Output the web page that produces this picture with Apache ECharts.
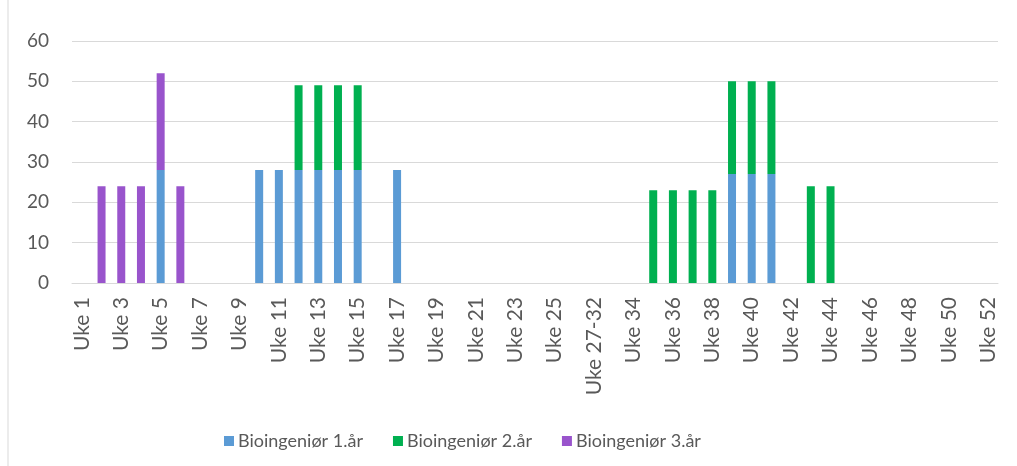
<!DOCTYPE html>
<html>
<head>
<meta charset="utf-8">
<script src="https://cdn.jsdelivr.net/npm/echarts@6/dist/echarts.min.js"></script>
<style>
  html, body { margin: 0; padding: 0; background: #fff; }
  #chart { width: 1017px; height: 466px; }
</style>
</head>
<body>
<div id="chart"></div>
<script>
// uker: 1-26, 27-32 samlet, 33-52
const weeks = []
for (let i = 1; i <= 26; i++) weeks.push('Uke ' + i)
weeks.push('Uke 27-32')
for (let i = 33; i <= 52; i++) weeks.push('Uke ' + i)

const seriesNames = ['Bioingeniør 1.år', 'Bioingeniør 2.år', 'Bioingeniør 3.år']

// verdier per uke (uke -> antall)
const year1 = { 'Uke 5': 28, 'Uke 10': 28, 'Uke 11': 28, 'Uke 12': 28, 'Uke 13': 28, 'Uke 14': 28, 'Uke 15': 28, 'Uke 17': 28, 'Uke 39': 27, 'Uke 40': 27, 'Uke 41': 27 }
const year2 = { 'Uke 12': 21, 'Uke 13': 21, 'Uke 14': 21, 'Uke 15': 21, 'Uke 35': 23, 'Uke 36': 23, 'Uke 37': 23, 'Uke 38': 23, 'Uke 39': 23, 'Uke 40': 23, 'Uke 41': 23, 'Uke 43': 24, 'Uke 44': 24 }
const year3 = { 'Uke 2': 24, 'Uke 3': 24, 'Uke 4': 24, 'Uke 5': 24, 'Uke 6': 24 }

const colors = ['#5B9BD5', '#00B050', '#9954CC']

function toArr(obj) {
  return weeks.map(w => (obj[w] === undefined ? null : obj[w]))
}

const chart = echarts.init(document.getElementById('chart'))
const font = 'Lato, Open Sans, sans-serif'

chart.setOption({
  animation: false,
  color: colors,
  textStyle: { fontFamily: font },
  grid: { left: 72, right: 19, top: 41, bottom: 183 },
  legend: {
    top: 427,
    left: 219,
    itemWidth: 10,
    itemHeight: 10,
    itemGap: 30,
    icon: 'rect',
    textStyle: { color: '#595959', fontSize: 18, fontFamily: font, padding: [0, 0, 0, -1] },
    data: seriesNames,
  },
  xAxis: {
    type: 'category',
    data: weeks,
    axisLine: { lineStyle: { color: '#D9D9D9' } },
    axisTick: { show: false },
    axisLabel: {
      interval: 1,
      rotate: 90,
      color: '#595959',
      fontSize: 21,
      margin: 14,
      fontFamily: font,
    },
  },
  yAxis: {
    type: 'value',
    min: 0,
    max: 60,
    interval: 10,
    axisLine: { show: false },
    axisTick: { show: false },
    axisLabel: { color: '#595959', fontSize: 19, margin: 23, fontFamily: font },
    splitLine: { lineStyle: { color: '#D9D9D9' } },
  },
  graphic: [{
    type: 'line',
    shape: { x1: 8, y1: 0, x2: 8, y2: 466 },
    style: { stroke: '#D9D9D9', lineWidth: 1 },
  }],
  series: [
    { name: seriesNames[0], type: 'bar', stack: 'a', barWidth: 8, data: toArr(year1) },
    { name: seriesNames[1], type: 'bar', stack: 'a', barWidth: 8, data: toArr(year2) },
    { name: seriesNames[2], type: 'bar', stack: 'a', barWidth: 8, data: toArr(year3) },
  ],
})
</script>
</body>
</html>
